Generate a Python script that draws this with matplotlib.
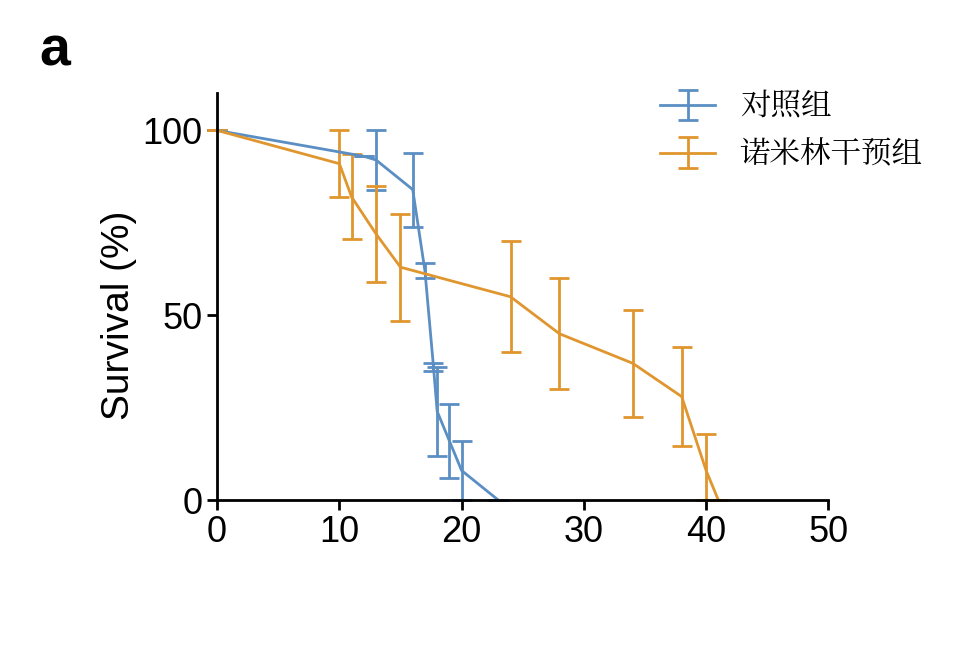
import matplotlib
matplotlib.use("Agg")
import matplotlib.pyplot as plt
from matplotlib import font_manager as fm

blue_x = [0, 12, 13, 16, 17, 17.7, 18, 19, 20, 23]
blue_y = [100, 93, 92, 84, 62, 36, 24, 16, 8, 0]
blue_e = [0, 0, 8, 10, 2, 1, 12, 10, 8, 0]
orange_x = [0, 10, 11, 13, 15, 24, 28, 34, 38, 40, 41]
orange_y = [100, 91, 82, 72, 63, 55, 45, 37, 28, 8, 0]
orange_e = [0, 9, 11.5, 13, 14.5, 15, 15, 14.5, 13.5, 10, 0]
labels = ["对照组", "诺米林干预组"]
xticks = [0, 10, 20, 30, 40, 50]
yticks = [0, 50, 100]

cjk = None
for f in fm.findSystemFonts():
    if "CJK" in f and ("SC" in f or "Regular" in f or f.endswith(".ttc")):
        cjk = f
        break
if cjk:
    fm.fontManager.addfont(cjk)
    cjk_name = fm.FontProperties(fname=cjk).get_name()
else:
    cjk_name = "Noto Sans CJK SC"
plt.rcParams["font.family"] = ["Liberation Sans", cjk_name]

fig = plt.figure(figsize=(9.78, 6.52), dpi=100)
ax = fig.add_axes([0.222, 0.233, 0.625, 0.567])
ax.set_xlim(0, 50)
ax.set_ylim(0, 100)
cb, co = "#5b8fc4", "#e0962e"
def errs(y, e):
    return [[min(a, b) for a, b in zip(e, y)], e]
ax.errorbar(blue_x, blue_y, yerr=errs(blue_y, blue_e), color=cb, lw=2, capsize=7, elinewidth=2, capthick=2, label=labels[0], clip_on=False)
ax.errorbar(orange_x, orange_y, yerr=errs(orange_y, orange_e), color=co, lw=2, capsize=7, elinewidth=2, capthick=2, label=labels[1], clip_on=False)
ax.set_xticks(xticks)
ax.set_yticks(yticks)
ax.tick_params(labelsize=26, width=2, length=7)
for s in ["top", "right"]:
    ax.spines[s].set_visible(False)
for s in ["left", "bottom"]:
    ax.spines[s].set_linewidth(2)
ax.spines["left"].set_bounds(0, 110)
ax.set_ylabel("Survival (%)", fontsize=28)
leg = ax.legend(loc="upper left", bbox_to_anchor=(0.68, 1.18), frameon=False, fontsize=22, handlelength=1.8)
for t in leg.get_texts():
    t.set_fontfamily(cjk_name)
fig.text(0.04, 0.9, "a", fontsize=40, fontweight="bold")
fig.savefig("out.png", dpi=100)
